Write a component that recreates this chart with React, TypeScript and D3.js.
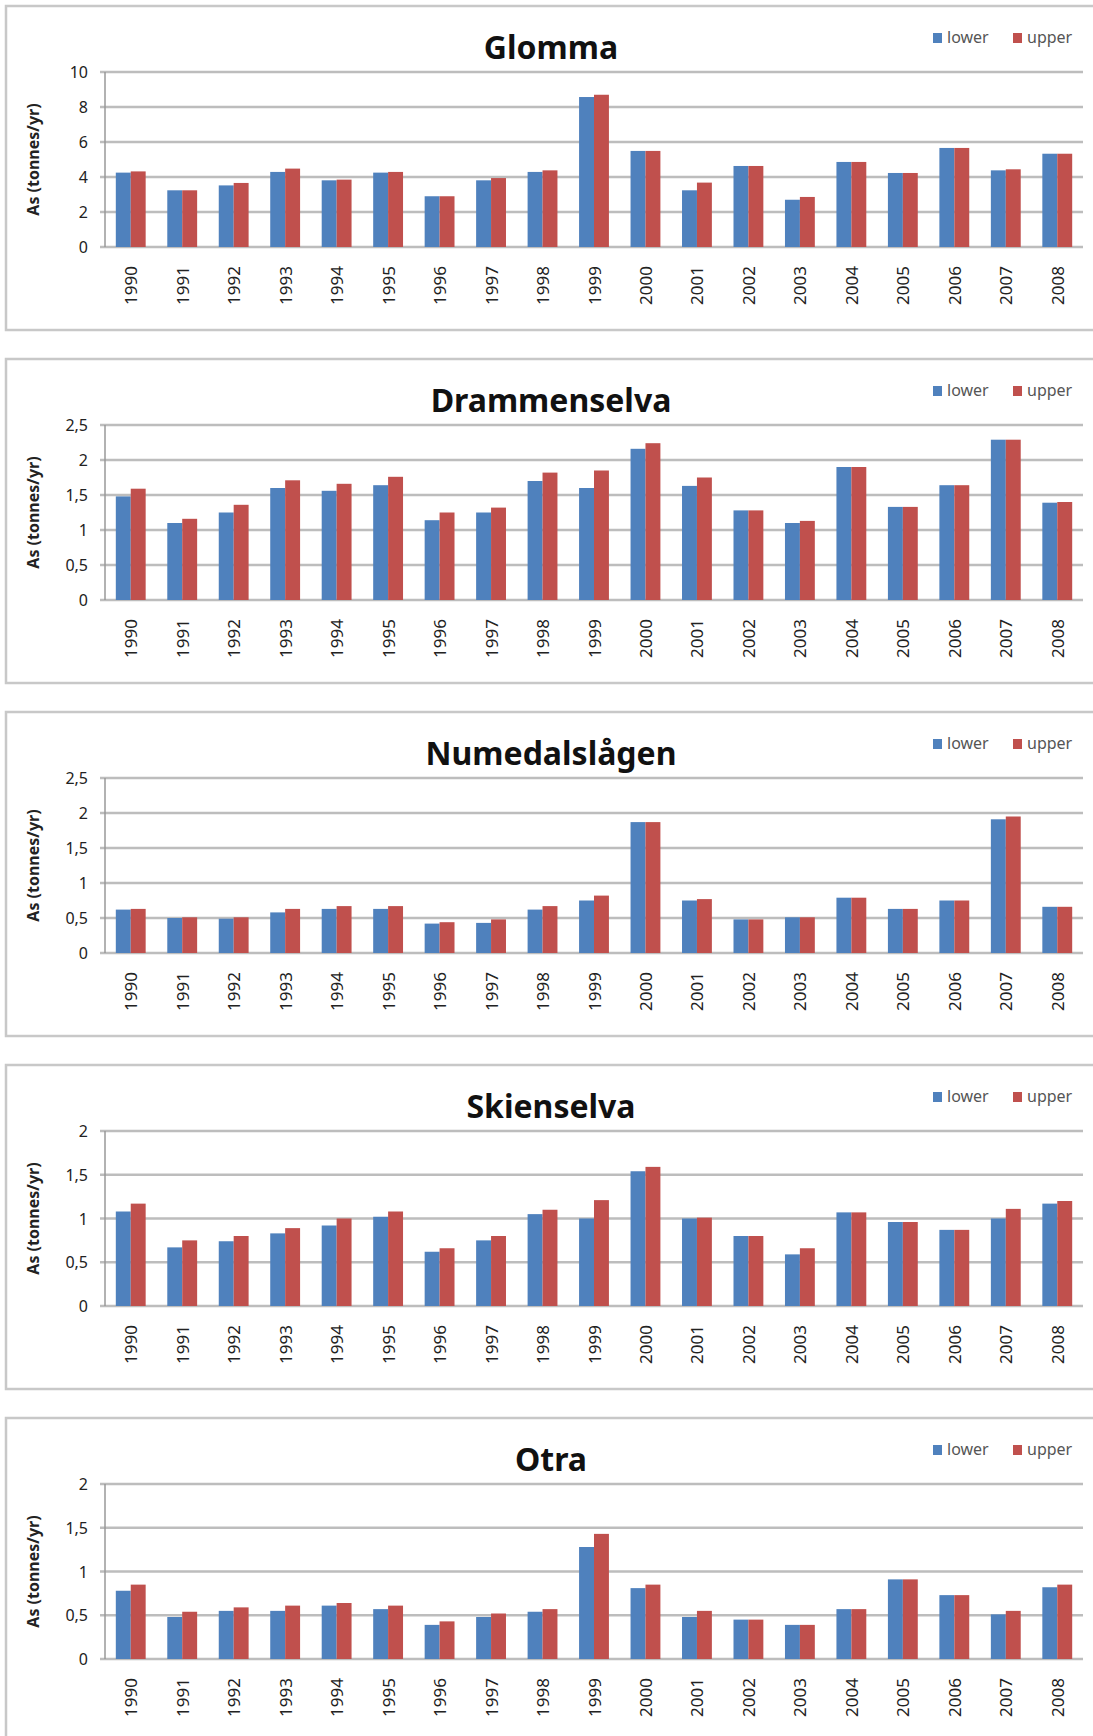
import React from 'react';
import * as d3 from 'd3';

const years = [
  '1990', '1991', '1992', '1993', '1994', '1995', '1996', '1997', '1998', '1999',
  '2000', '2001', '2002', '2003', '2004', '2005', '2006', '2007', '2008',
];
const seriesNames = ['lower', 'upper'];

const glommaLower = [4.25, 3.24, 3.52, 4.29, 3.81, 4.25, 2.9, 3.81, 4.29, 8.57, 5.49, 3.24, 4.63, 2.7, 4.86, 4.23, 5.66, 4.38, 5.33];
const glommaUpper = [4.32, 3.24, 3.66, 4.48, 3.85, 4.29, 2.9, 3.94, 4.38, 8.7, 5.49, 3.68, 4.63, 2.86, 4.86, 4.23, 5.66, 4.44, 5.33];
const glommaTicks = [0, 2, 4, 6, 8, 10];

const drammenLower = [1.48, 1.1, 1.25, 1.6, 1.56, 1.64, 1.14, 1.25, 1.7, 1.6, 2.16, 1.63, 1.28, 1.1, 1.9, 1.33, 1.64, 2.29, 1.39];
const drammenUpper = [1.59, 1.16, 1.36, 1.71, 1.66, 1.76, 1.25, 1.32, 1.82, 1.85, 2.24, 1.75, 1.28, 1.13, 1.9, 1.33, 1.64, 2.29, 1.4];
const drammenTicks = [0, 0.5, 1, 1.5, 2, 2.5];

const numedalLower = [0.62, 0.5, 0.49, 0.58, 0.63, 0.63, 0.42, 0.43, 0.62, 0.75, 1.87, 0.75, 0.48, 0.51, 0.79, 0.63, 0.75, 1.91, 0.66];
const numedalUpper = [0.63, 0.51, 0.51, 0.63, 0.67, 0.67, 0.44, 0.48, 0.67, 0.82, 1.87, 0.77, 0.48, 0.51, 0.79, 0.63, 0.75, 1.95, 0.66];
const numedalTicks = [0, 0.5, 1, 1.5, 2, 2.5];

const skienLower = [1.08, 0.67, 0.74, 0.83, 0.92, 1.02, 0.62, 0.75, 1.05, 1.0, 1.54, 1.0, 0.8, 0.59, 1.07, 0.96, 0.87, 1.0, 1.17];
const skienUpper = [1.17, 0.75, 0.8, 0.89, 1.0, 1.08, 0.66, 0.8, 1.1, 1.21, 1.59, 1.01, 0.8, 0.66, 1.07, 0.96, 0.87, 1.11, 1.2];
const skienTicks = [0, 0.5, 1, 1.5, 2];

const otraLower = [0.78, 0.48, 0.55, 0.55, 0.61, 0.57, 0.39, 0.48, 0.54, 1.28, 0.81, 0.48, 0.45, 0.39, 0.57, 0.91, 0.73, 0.51, 0.82];
const otraUpper = [0.85, 0.54, 0.59, 0.61, 0.64, 0.61, 0.43, 0.52, 0.57, 1.43, 0.85, 0.55, 0.45, 0.39, 0.57, 0.91, 0.73, 0.55, 0.85];
const otraTicks = [0, 0.5, 1, 1.5, 2];

const rivers = [
  { title: 'Glomma', lower: glommaLower, upper: glommaUpper, ticks: glommaTicks },
  { title: 'Drammenselva', lower: drammenLower, upper: drammenUpper, ticks: drammenTicks },
  { title: 'Numedalslågen', lower: numedalLower, upper: numedalUpper, ticks: numedalTicks },
  { title: 'Skienselva', lower: skienLower, upper: skienUpper, ticks: skienTicks },
  { title: 'Otra', lower: otraLower, upper: otraUpper, ticks: otraTicks },
];

const W = 1093;
const H = 1736;
const FONT = '"Noto Sans", "DejaVu Sans", sans-serif';
const colors = ['#4f81bd', '#c0504d'];
const PLOT_LEFT = 105;
const PLOT_RIGHT = 1083;

const fmt = (v: number) => String(v).replace('.', ',');

interface PanelProps {
  top: number;
  title: string;
  lower: number[];
  upper: number[];
  ticks: number[];
}

function Panel({ top, title, lower, upper, ticks }: PanelProps) {
  const plotTop = top + 66;
  const zero = top + 241;

  const x = d3.scaleBand<string>()
    .domain(years)
    .range([PLOT_LEFT, PLOT_RIGHT])
    .paddingInner(0.42)
    .paddingOuter(0.21);
  const xs = d3.scaleBand<string>()
    .domain(seriesNames)
    .range([0, x.bandwidth()]);
  const y = d3.scaleLinear()
    .domain([0, ticks[ticks.length - 1]])
    .range([zero, plotTop]);

  const values = [lower, upper];

  return (
    <g>
      <rect x={6} y={top} width={W + 10} height={324} fill="#fff" stroke="#c8c8c8" strokeWidth={2.5} />
      <text x={551} y={top + 53} textAnchor="middle" fontSize={32} fontWeight="bold" fill="#111">{title}</text>

      {/* legend */}
      {seriesNames.map((s, i) => (
        <g key={s}>
          <rect x={933 + i * 80} y={top + 27} width={9} height={10} fill={colors[i]} />
          <text x={947 + i * 80} y={top + 37} fontSize={16} fill="#555">{s}</text>
        </g>
      ))}

      {/* gridlines + y ticks */}
      {ticks.map((t) => (
        <g key={t}>
          <line x1={PLOT_LEFT - 5} x2={PLOT_RIGHT} y1={y(t)} y2={y(t)} stroke="#bdbdbd" strokeWidth={2.5} />
          <text x={88} y={y(t)} textAnchor="end" dominantBaseline="central" fontSize={16} fill="#222">{fmt(t)}</text>
        </g>
      ))}
      <line x1={PLOT_LEFT} x2={PLOT_LEFT} y1={plotTop} y2={zero} stroke="#999" strokeWidth={1.5} />

      {/* bars */}
      {years.map((yr, i) => (
        <g key={yr}>
          {values.map((vals, j) => (
            <rect
              key={j}
              x={(x(yr) ?? 0) + (xs(seriesNames[j]) ?? 0)}
              y={y(vals[i])}
              width={xs.bandwidth()}
              height={zero - y(vals[i])}
              fill={colors[j]}
            />
          ))}
          <text
            transform={`translate(${(x(yr) ?? 0) + x.bandwidth() / 2},${zero + 19}) rotate(-90)`}
            textAnchor="end"
            dominantBaseline="central"
            fontSize={17}
            fill="#222"
          >
            {yr}
          </text>
        </g>
      ))}

      <text
        transform={`translate(33,${(plotTop + zero) / 2}) rotate(-90)`}
        textAnchor="middle"
        dominantBaseline="central"
        fontSize={16}
        fontWeight="bold"
        fill="#222"
      >
        As (tonnes/yr)
      </text>
    </g>
  );
}

export default function App() {
  return (
    <svg
      width={W}
      height={H}
      style={{ position: 'absolute', left: 0, top: 0, fontFamily: FONT, background: '#fff' }}
    >
      {rivers.map((r, i) => (
        <Panel key={r.title} top={6 + i * 353} title={r.title} lower={r.lower} upper={r.upper} ticks={r.ticks} />
      ))}
    </svg>
  );
}
